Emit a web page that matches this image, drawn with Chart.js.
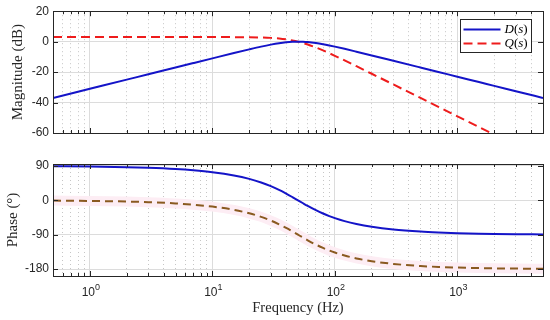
<!DOCTYPE html>
<html>
<head>
<meta charset="utf-8">
<script src="https://cdn.jsdelivr.net/npm/chart.js@4"></script>
<style>
  body { margin: 0; background: #fff; }
  canvas { position: absolute; left: 0; }
</style>
</head>
<body>
<canvas id="magChart" width="550" height="150" style="top:0"></canvas>
<canvas id="phaseChart" width="550" height="170" style="top:150px"></canvas>
<script>
// values
var freqHz = [0.5, 1, 2, 3, 5, 7, 10, 15, 20, 25, 30, 35, 40, 45, 50, 55, 60, 70, 80, 90,
              100, 120, 150, 200, 300, 500, 700, 1000, 1500, 2000, 3000, 5000];
var dMagDb = [-36.99, -30.97, -24.95, -21.43, -16.99, -14.07, -10.98, -7.48, -5.06, -3.27,
              -1.96, -1.02, -0.42, -0.10, 0, -0.08, -0.28, -0.92, -1.69, -2.49,
              -3.27, -4.72, -6.59, -9.05, -12.56, -16.99, -19.91, -23.01, -26.53, -29.03, -32.55, -36.99];
var qMagDb = [3.01, 3.01, 3.01, 3.01, 3.01, 3.01, 3.00, 2.97, 2.90, 2.75,
              2.48, 2.08, 1.52, 0.82, 0, -0.91, -1.87, -3.84, -5.77, -7.60,
              -9.29, -12.33, -16.13, -21.09, -28.12, -36.99, -42.84, -49.03, -56.07, -61.07, -68.12, -76.99];
var dPhaseDeg = [89.19, 88.38, 86.75, 85.13, 81.87, 78.58, 73.58, 65.00, 56.04, 46.68,
                 37.02, 27.26, 17.65, 8.49, 0, -7.69, -14.53, -25.87, -34.59, -41.35,
                 -46.69, -54.51, -62.06, -69.34, -76.37, -81.87, -84.20, -85.95, -87.30, -87.97, -88.65, -89.19];
var qPhaseDeg = [-0.81, -1.62, -3.25, -4.87, -8.13, -11.42, -16.42, -25.00, -33.96, -43.32,
                 -52.98, -62.74, -72.35, -81.51, -90, -97.69, -104.53, -115.87, -124.59, -131.35,
                 -136.69, -144.51, -152.06, -159.34, -166.37, -171.87, -174.20, -175.95, -177.30, -177.97, -178.65, -179.19];

var seriesNames = ['D(s)', 'Q(s)'];
var decadeTicks = [1, 10, 100, 1000];
var decadeExponents = ['0', '1', '2', '3'];
var magTicks = [-60, -40, -20, 0, 20];
var phaseTicks = [-180, -90, 0, 90];

var axisColor = '#262626';
var sansFont = "'Liberation Sans', Arial, sans-serif";
var serifFont = "'Liberation Serif', 'Times New Roman', serif";

function toPoints(ys) {
    return freqHz.map(function (f, i) { return { x: f, y: ys[i] }; });
}

function isDecade(v) {
    var l = Math.log10(v);
    return Math.abs(l - Math.round(l)) < 1e-9;
}

// all 1..9 x 10^n ticks between 0.5 and 5000
function logTicks(scale) {
    var ticks = [];
    for (var e = -1; e <= 3; e++) {
        for (var m = 1; m <= 9; m++) {
            var v = m * Math.pow(10, e);
            if (v >= 0.5 - 1e-9 && v <= 5000 + 1e-6) ticks.push({ value: v });
        }
    }
    scale.ticks = ticks;
}

function xAxis(withLabels) {
    return {
        type: 'logarithmic',
        min: 0.5,
        max: 5000,
        afterBuildTicks: logTicks,
        afterFit: function (s) { s.height = withLabels ? 44 : 17; },
        ticks: { display: false, autoSkip: false },
        grid: {
            drawTicks: false,
            lineWidth: 1,
            color: function (c) { return c.tick && isDecade(c.tick.value) ? '#dcdcdc' : '#c6c6c6'; }
        },
        border: {
            display: false,
            dash: function (c) { return c.tick && isDecade(c.tick.value) ? [] : [1, 3]; }
        },
        title: {
            display: withLabels,
            text: 'Frequency (Hz)',
            color: axisColor,
            font: { family: serifFont, size: 14.5 },
            padding: { top: 0, bottom: 3 }
        }
    };
}

function yAxis(min, max, tickValues, title, titlePad) {
    return {
        min: min,
        max: max,
        afterBuildTicks: function (s) { s.ticks = tickValues.map(function (v) { return { value: v }; }); },
        afterFit: function (s) { s.width = 53; },
        ticks: { color: axisColor, font: { family: sansFont, size: 12 }, padding: 4, autoSkip: false },
        grid: { drawTicks: false, color: '#dcdcdc' },
        border: { display: false },
        title: {
            display: true,
            text: title,
            color: axisColor,
            font: { family: serifFont, size: 15 },
            padding: { top: titlePad, bottom: 0 }
        }
    };
}

// box round the plot with inward tick marks, like MATLAB
var framePlugin = {
    id: 'frame',
    afterDraw: function (chart) {
        var ctx = chart.ctx, a = chart.chartArea, sx = chart.scales.x, sy = chart.scales.y;
        ctx.save();
        ctx.strokeStyle = axisColor;
        ctx.lineWidth = 1;
        ctx.beginPath();
        sx.ticks.forEach(function (t) {
            var px = Math.round(sx.getPixelForValue(t.value)) + 0.5;
            var len = isDecade(t.value) ? 5 : 3;
            ctx.moveTo(px, a.bottom); ctx.lineTo(px, a.bottom - len);
            ctx.moveTo(px, a.top); ctx.lineTo(px, a.top + len);
        });
        sy.ticks.forEach(function (t) {
            var py = Math.round(sy.getPixelForValue(t.value)) + 0.5;
            ctx.moveTo(a.left, py); ctx.lineTo(a.left + 5, py);
            ctx.moveTo(a.right, py); ctx.lineTo(a.right - 5, py);
        });
        ctx.stroke();
        ctx.strokeRect(Math.round(a.left) + 0.5, Math.round(a.top) + 0.5, Math.round(a.width), Math.round(a.height));
        ctx.restore();
    }
};

// 10^n labels under the phase plot
var decadeLabelPlugin = {
    id: 'decadeLabels',
    afterDraw: function (chart) {
        var ctx = chart.ctx, a = chart.chartArea, sx = chart.scales.x;
        ctx.save();
        ctx.fillStyle = axisColor;
        ctx.textBaseline = 'alphabetic';
        decadeTicks.forEach(function (v, i) {
            ctx.font = '12px ' + sansFont;
            var w1 = ctx.measureText('10').width;
            ctx.font = '9px ' + sansFont;
            var w2 = ctx.measureText(decadeExponents[i]).width;
            var x0 = sx.getPixelForValue(v) - (w1 + w2) / 2 + 1;
            ctx.font = '12px ' + sansFont;
            ctx.fillText('10', x0, a.bottom + 20);
            ctx.font = '9px ' + sansFont;
            ctx.fillText(decadeExponents[i], x0 + w1, a.bottom + 14);
        });
        ctx.restore();
    }
};

// legend box in the top right of the magnitude plot
var legendPlugin = {
    id: 'boxLegend',
    afterDraw: function (chart) {
        var ctx = chart.ctx;
        var bx = 460.5, by = 19.5, bw = 71, bh = 33;
        ctx.save();
        ctx.fillStyle = '#fff';
        ctx.fillRect(bx, by, bw, bh);
        ctx.strokeStyle = axisColor;
        ctx.lineWidth = 1;
        ctx.strokeRect(bx, by, bw, bh);
        chart.data.datasets.forEach(function (ds, i) {
            var y = by + 10 + i * 14;
            ctx.strokeStyle = ds.borderColor;
            ctx.lineWidth = ds.borderWidth;
            ctx.setLineDash(ds.borderDash || []);
            ctx.beginPath();
            ctx.moveTo(bx + 3, y);
            ctx.lineTo(bx + 40, y);
            ctx.stroke();
            ctx.setLineDash([]);
            ctx.fillStyle = '#000';
            ctx.textBaseline = 'middle';
            var x = bx + 44;
            ds.label.split('').forEach(function (ch) {
                var italic = /[A-Za-z]/.test(ch);
                ctx.font = (italic ? 'italic ' : '') + '13px ' + serifFont;
                ctx.fillText(ch, x, y);
                x += ctx.measureText(ch).width;
            });
        });
        ctx.restore();
    }
};

var lineDefaults = { pointRadius: 0, fill: false, cubicInterpolationMode: 'monotone' };

new Chart(document.getElementById('magChart').getContext('2d'), {
    type: 'line',
    data: {
        datasets: [
            Object.assign({ label: seriesNames[0], data: toPoints(dMagDb), borderColor: '#1414c8', borderWidth: 2 }, lineDefaults),
            Object.assign({ label: seriesNames[1], data: toPoints(qMagDb), borderColor: '#ee1c1c', borderWidth: 2, borderDash: [9, 5] }, lineDefaults)
        ]
    },
    options: {
        responsive: false,
        animation: false,
        devicePixelRatio: 1,
        layout: { padding: { top: 9, right: 7, left: 0, bottom: 0 } },
        plugins: { legend: { display: false }, tooltip: { enabled: false } },
        scales: {
            x: xAxis(false),
            y: yAxis(-60, 20, magTicks, 'Magnitude (dB)', 9)
        }
    },
    plugins: [framePlugin, legendPlugin]
});

new Chart(document.getElementById('phaseChart').getContext('2d'), {
    type: 'line',
    data: {
        datasets: [
            Object.assign({ label: seriesNames[0], data: toPoints(dPhaseDeg), borderColor: '#1414c8', borderWidth: 2, order: 1 }, lineDefaults),
            Object.assign({ label: seriesNames[1], data: toPoints(qPhaseDeg), borderColor: '#8a5a20', borderWidth: 2, borderDash: [8, 5], order: 1 }, lineDefaults),
            Object.assign({ label: '', data: toPoints(qPhaseDeg), borderColor: '#fdedf4', borderWidth: 10, order: 3 }, lineDefaults)
        ]
    },
    options: {
        responsive: false,
        animation: false,
        devicePixelRatio: 1,
        layout: { padding: { top: 14, right: 7, left: 0, bottom: 0 } },
        plugins: { legend: { display: false }, tooltip: { enabled: false } },
        scales: {
            x: xAxis(true),
            y: yAxis(-198, 95, phaseTicks, 'Phase (°)', 4)
        }
    },
    plugins: [framePlugin, decadeLabelPlugin]
});
</script>
</body>
</html>
